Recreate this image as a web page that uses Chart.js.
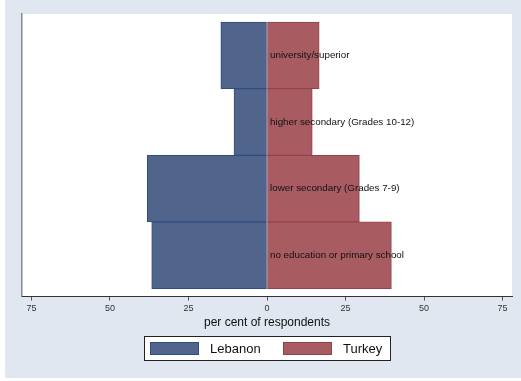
<!DOCTYPE html>
<html>
<head>
<meta charset="utf-8">
<script src="https://cdn.jsdelivr.net/npm/chart.js@4.4.0/dist/chart.umd.min.js"></script>
<style>
  html, body { margin: 0; padding: 0; background: #fff; }
  #wrap { width: 521px; height: 381px; position: relative; }
</style>
</head>
<body>
<div id="wrap"><canvas id="pyramid"></canvas></div>
<script>
// Education level by country (per cent of respondents)
// categories listed bottom to top
const levels = [
  'no education or primary school',
  'lower secondary (Grades 7-9)',
  'higher secondary (Grades 10-12)',
  'university/superior'
];
const lebanon = [36.7, 38.1, 10.5, 14.7];
const turkey = [39.6, 29.4, 14.4, 16.6];
const xTicks = [-75, -50, -25, 0, 25, 50, 75];

const FONT = '"Liberation Sans", Arial, Helvetica, sans-serif';
Chart.defaults.font.family = FONT;

// backdrop: light blue graph region, white plot region
const backdrop = {
  id: 'backdrop',
  beforeDraw(chart) {
    const { ctx, chartArea: a, width, height } = chart;
    ctx.save();
    ctx.fillStyle = '#fff';
    ctx.fillRect(0, 0, width, height);
    ctx.fillStyle = '#e0e7f1';
    ctx.fillRect(5, 0, width - 5, 378);
    ctx.fillStyle = '#fff';
    ctx.fillRect(a.left, a.top, a.right - a.left, a.bottom - a.top);
    ctx.restore();
  }
};

// category names written just right of the zero line
const barLabels = {
  id: 'barLabels',
  afterDatasetsDraw(chart) {
    const { ctx, scales } = chart;
    const x0 = scales.x.getPixelForValue(0) + 3;
    ctx.save();
    ctx.font = '9.8px ' + FONT;
    ctx.fillStyle = '#111';
    ctx.textBaseline = 'middle';
    levels.forEach((name, i) => {
      ctx.fillText(name, x0, scales.y.getPixelForValue(i + 1));
    });
    ctx.restore();
  }
};

// boxed legend under the axis title
const boxLegend = {
  id: 'boxLegend',
  afterDraw(chart) {
    const { ctx } = chart;
    const sets = chart.data.datasets;
    const slots = [150, 283];
    ctx.save();
    ctx.fillStyle = '#fff';
    ctx.fillRect(144, 336, 246, 24);
    ctx.strokeStyle = '#222';
    ctx.lineWidth = 1;
    ctx.strokeRect(144.5, 336.5, 246, 24);
    ctx.font = '13px ' + FONT;
    ctx.textBaseline = 'middle';
    sets.forEach((ds, i) => {
      const x = slots[i];
      ctx.fillStyle = ds.backgroundColor;
      ctx.fillRect(x, 342, 49, 13);
      ctx.strokeStyle = ds.borderColor;
      ctx.strokeRect(x + 0.5, 342.5, 48, 12);
      ctx.fillStyle = '#111';
      ctx.fillText(ds.label, x + 60, 349);
    });
    ctx.restore();
  }
};

const barStyle = {
  borderWidth: 1,
  borderSkipped: false,
  grouped: false,
  barPercentage: 1,
  categoryPercentage: 1
};

new Chart(document.getElementById('pyramid'), {
  type: 'bar',
  data: {
    datasets: [
      {
        label: 'Lebanon',
        data: lebanon.map((v, i) => ({ x: -v, y: i + 1 })),
        backgroundColor: '#51658c',
        borderColor: '#2e4d80',
        ...barStyle
      },
      {
        label: 'Turkey',
        data: turkey.map((v, i) => ({ x: v, y: i + 1 })),
        backgroundColor: '#a85c61',
        borderColor: '#93424a',
        ...barStyle
      }
    ]
  },
  options: {
    indexAxis: 'y',
    responsive: true,
    maintainAspectRatio: false,
    animation: false,
    layout: { padding: { left: 14, right: 9, top: 14, bottom: 51 } },
    plugins: {
      legend: { display: false },
      tooltip: { enabled: false }
    },
    scales: {
      y: {
        type: 'linear',
        min: 0.38,
        max: 4.62,
        offset: false,
        display: true,
        // one tick per level so bars fill the full row height
        afterBuildTicks: axis => {
          axis.ticks = levels.map((_, i) => ({ value: i + 1 }));
        },
        grid: { display: false },
        ticks: { display: false },
        border: { display: true, color: '#8a8a8a', width: 1.5 }
      },
      x: {
        type: 'linear',
        min: -78,
        max: 78,
        afterBuildTicks: axis => {
          axis.ticks = xTicks.map(v => ({ value: v }));
        },
        grid: {
          display: true,
          drawOnChartArea: false,
          drawTicks: true,
          tickLength: 4,
          color: '#555'
        },
        border: { display: true, color: '#333', width: 1 },
        ticks: {
          padding: 3,
          color: '#333',
          font: { size: 9, lineHeight: 1 },
          callback: v => Math.abs(v)
        },
        title: {
          display: true,
          text: 'per cent of respondents',
          color: '#111',
          font: { size: 12 },
          padding: { top: 0, bottom: 0 }
        }
      }
    }
  },
  plugins: [backdrop, barLabels, boxLegend]
});
</script>
</body>
</html>
